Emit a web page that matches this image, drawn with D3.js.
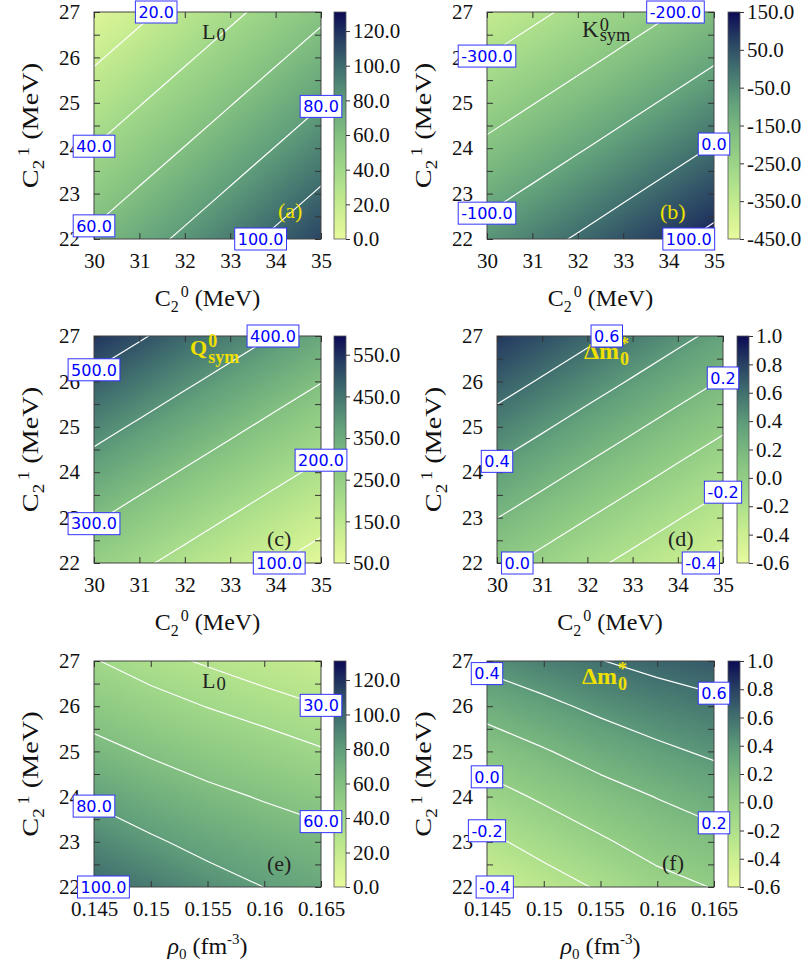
<!DOCTYPE html>
<html><head><meta charset="utf-8">
<script src="https://cdn.jsdelivr.net/npm/d3@7"></script>
<style>body{margin:0;background:#fff} svg{display:block}</style>
</head><body>
<svg id="chart" width="810" height="972"></svg>
<script>
// ---------------- data ----------------
const c2_0 = [30, 31, 32, 33, 34, 35];          // C2^0 (MeV) grid / ticks
const c2_1 = [22, 23, 24, 25, 26, 27];          // C2^1 (MeV) grid / ticks
const c2_1_minor = [22.5, 23.5, 24.5, 25.5, 26.5];
const rho0 = [0.145, 0.15, 0.155, 0.16, 0.165]; // rho0 (fm^-3) grid / ticks
const rho0_labels = ["0.145", "0.15", "0.155", "0.16", "0.165"];

// rows: C2^1 = 22..27 ; cols: C2^0 = 30..35
const L0_a = [
  [63.3, 73.3, 83.3, 93.3, 103.3, 113.3],
  [51.9, 61.9, 71.9, 81.9, 91.9, 101.9],
  [40.5, 50.5, 60.5, 70.5, 80.5, 90.5],
  [29.1, 39.1, 49.1, 59.1, 69.1, 79.1],
  [17.7, 27.7, 37.7, 47.7, 57.7, 67.7],
  [6.3, 16.3, 26.3, 36.3, 46.3, 56.3]
];
const Ksym_b = [
  [-67.1, -29.5, 8.1, 45.7, 83.3, 120.9],
  [-124.9, -87.3, -49.7, -12.1, 25.5, 63.1],
  [-182.7, -145.1, -107.5, -69.9, -32.3, 5.3],
  [-240.5, -202.9, -165.3, -127.7, -90.1, -52.5],
  [-298.3, -260.7, -223.1, -185.5, -147.9, -110.3],
  [-356.1, -318.5, -280.9, -243.3, -205.7, -168.1]
];
const Qsym_c = [
  [248.9, 212.4, 175.9, 139.4, 102.9, 66.4],
  [307.9, 271.4, 234.9, 198.4, 161.9, 125.4],
  [366.9, 330.4, 293.9, 257.4, 220.9, 184.4],
  [425.9, 389.4, 352.9, 316.4, 279.9, 243.4],
  [484.9, 448.4, 411.9, 375.4, 338.9, 302.4],
  [543.9, 507.4, 470.9, 434.4, 397.9, 361.4]
];
const dm_d = [
  [0.044, -0.054, -0.153, -0.251, -0.350, -0.448],
  [0.203, 0.105, 0.006, -0.092, -0.191, -0.289],
  [0.362, 0.264, 0.165, 0.067, -0.032, -0.130],
  [0.521, 0.423, 0.324, 0.226, 0.127, 0.029],
  [0.680, 0.582, 0.483, 0.385, 0.286, 0.188],
  [0.839, 0.741, 0.642, 0.544, 0.445, 0.347]
];
// rows: C2^1 = 22..27 ; cols: rho0 = 0.145..0.165
const L0_e = [
  [101.2, 94.0, 86.4, 79.9, 74.5],
  [89.4, 82.1, 75.2, 69.5, 65.4],
  [77.5, 70.2, 64.0, 58.7, 53.3],
  [64.8, 58.1, 52.0, 46.3, 41.1],
  [52.6, 45.5, 39.6, 34.7, 30.2],
  [40.8, 33.5, 28.6, 23.8, 19.5]
];
const dm_f = [
  [-0.418, -0.286, -0.180, -0.065, 0.007],
  [-0.241, -0.129, -0.024, 0.076, 0.140],
  [-0.073, 0.028, 0.124, 0.206, 0.283],
  [0.094, 0.186, 0.280, 0.363, 0.430],
  [0.268, 0.356, 0.442, 0.509, 0.562],
  [0.451, 0.527, 0.596, 0.653, 0.694]
];

const levels_a = [20, 40, 60, 80, 100];
const levels_b = [-300, -200, -100, 0, 100];
const levels_c = [100, 200, 300, 400, 500];
const levels_d = [-0.4, -0.2, 0.0, 0.2, 0.4, 0.6];
const levels_e = [30, 40, 60, 80, 100];
const levels_f = [-0.4, -0.2, 0.0, 0.2, 0.4, 0.6];

const cbRange_L0 = [0, 131];
const cbTicks_L0 = [0, 20, 40, 60, 80, 100, 120];
const cbRange_K = [-450, 150];
const cbTicks_K = [-450, -350, -250, -150, -50, 50, 150];
const cbRange_Q = [50, 595];
const cbTicks_Q = [50, 150, 250, 350, 450, 550];
const cbRange_dm = [-0.6, 1.0];
const cbTicks_dm = [-0.6, -0.4, -0.2, 0.0, 0.2, 0.4, 0.6, 0.8, 1.0];

// palette
const palPos = [0, 0.15, 0.30, 0.45, 0.60, 0.75, 0.88, 1];
const palCol = ["#e8fa9c", "#c6ec8f", "#a2d989", "#84c181", "#62a17b", "#41706f", "#273f62", "#0b0a55"];

// ---------------- drawing ----------------
const svg = d3.select("#chart");
svg.append("rect").attr("width", 810).attr("height", 972).attr("fill", "#fff");
const defs = svg.append("defs");
const YEL = "#f0e000", DARK = "#222";
const SERIF = "'Liberation Serif','Times New Roman',serif";
const cmap = d3.scaleLinear().domain(palPos).range(palCol).interpolate(d3.interpolateRgb).clamp(true);

function cross(a, b, lev) {
  if ((a[2] >= lev) === (b[2] >= lev)) return null;
  const t = (lev - a[2]) / (b[2] - a[2]);
  return [a[0] + t*(b[0]-a[0]), a[1] + t*(b[1]-a[1])];
}
function segments(grid, xs, ys, lev) {
  const segs = [];
  for (let j = 0; j < ys.length - 1; j++) for (let i = 0; i < xs.length - 1; i++) {
    const c = [[xs[i], ys[j], grid[j][i]], [xs[i+1], ys[j], grid[j][i+1]],
               [xs[i+1], ys[j+1], grid[j+1][i+1]], [xs[i], ys[j+1], grid[j+1][i]]];
    const pts = [];
    for (let k = 0; k < 4; k++) { const q = cross(c[k], c[(k+1) % 4], lev); if (q) pts.push(q); }
    if (pts.length === 2) segs.push(pts);
    if (pts.length === 4) { segs.push([pts[0], pts[1]]); segs.push([pts[2], pts[3]]); }
  }
  return segs;
}
function edgeCross(grid, xs, ys, lev, side) {
  let line;
  const nx = xs.length, ny = ys.length;
  if (side === "left") line = ys.map((yv, j) => [xs[0], yv, grid[j][0]]);
  if (side === "right") line = ys.map((yv, j) => [xs[nx-1], yv, grid[j][nx-1]]);
  if (side === "bottom") line = xs.map((xv, i) => [xv, ys[0], grid[0][i]]);
  if (side === "top") line = xs.map((xv, i) => [xv, ys[ny-1], grid[ny-1][i]]);
  for (let k = 0; k < line.length - 1; k++) { const q = cross(line[k], line[k+1], lev); if (q) return q; }
  return null;
}

const labelLayer = [];

function drawPanel(p) {
  const g = svg.append("g");
  const x = d3.scaleLinear().domain(d3.extent(p.xs)).range([p.px, p.px + p.pw]);
  const y = d3.scaleLinear().domain(d3.extent(p.ys)).range([p.py + p.ph, p.py]);
  const cnorm = d3.scaleLinear().domain(p.cb).range([0, 1]).clamp(true);
  const color = v => cmap(cnorm(v));

  // heat map (bilinear shading of the grid)
  const W = Math.round(p.pw), H = Math.round(p.ph);
  const cv = document.createElement("canvas"); cv.width = W; cv.height = H;
  const ctx = cv.getContext("2d"); const img = ctx.createImageData(W, H);
  const fi = d3.scaleLinear().domain(p.xs).range(d3.range(p.xs.length)).clamp(true);
  const fj = d3.scaleLinear().domain(p.ys).range(d3.range(p.ys.length)).clamp(true);
  const nx = p.xs.length, ny = p.ys.length;
  for (let py = 0; py < H; py++) {
    const vy = fj(y.invert(p.py + py + 0.5));
    const j0 = Math.min(ny - 2, Math.floor(vy)), tj = vy - j0;
    for (let px = 0; px < W; px++) {
      const vx = fi(x.invert(p.px + px + 0.5));
      const i0 = Math.min(nx - 2, Math.floor(vx)), ti = vx - i0;
      const v = (1-ti)*(1-tj)*p.grid[j0][i0] + ti*(1-tj)*p.grid[j0][i0+1]
              + (1-ti)*tj*p.grid[j0+1][i0] + ti*tj*p.grid[j0+1][i0+1];
      const c = d3.rgb(color(v));
      const o = (py*W + px)*4;
      img.data[o] = c.r; img.data[o+1] = c.g; img.data[o+2] = c.b; img.data[o+3] = 255;
    }
  }
  ctx.putImageData(img, 0, 0);
  g.append("image").attr("href", cv.toDataURL()).attr("x", p.px).attr("y", p.py)
    .attr("width", p.pw).attr("height", p.ph).attr("preserveAspectRatio", "none");

  // contours
  const clipId = "clip" + p.id;
  defs.append("clipPath").attr("id", clipId).append("rect")
    .attr("x", p.px).attr("y", p.py).attr("width", p.pw).attr("height", p.ph);
  const line = d3.line().x(d => x(d[0])).y(d => y(d[1]));
  const cg = g.append("g").attr("clip-path", `url(#${clipId})`);
  p.levels.forEach(lev => {
    const segs = segments(p.grid, p.xs, p.ys, lev);
    cg.append("path").attr("d", segs.map(s => line(s)).join(""))
      .attr("fill", "none").attr("stroke", "#fff").attr("stroke-width", 1.2)
      .attr("stroke-linecap", "round");
  });

  // frame
  g.append("rect").attr("x", p.px).attr("y", p.py).attr("width", p.pw).attr("height", p.ph)
    .attr("fill", "none").attr("stroke", "#444").attr("stroke-width", 1);

  // axes
  const styleAxis = sel => {
    sel.select(".domain").remove();
    sel.attr("font-family", SERIF).attr("font-size", 21);
    sel.selectAll(".tick line").attr("stroke", "#333");
    sel.selectAll(".tick text").attr("fill", "#111");
  };
  const xb = d3.axisBottom(x).tickValues(p.xs).tickSizeInner(-6).tickSizeOuter(0).tickPadding(14)
    .tickFormat((d, i) => p.xLabels[i]);
  g.append("g").attr("transform", `translate(0,${p.py + p.ph})`).call(xb).call(styleAxis);
  g.append("g").attr("transform", `translate(0,${p.py})`)
    .call(d3.axisTop(x).tickValues(p.xs).tickSizeInner(-6).tickSizeOuter(0).tickFormat(""))
    .call(styleAxis);
  const yTicksAll = p.ys.concat(c2_1_minor);
  g.append("g").attr("transform", `translate(${p.px},0)`)
    .call(d3.axisLeft(y).tickValues(yTicksAll).tickSizeInner(-6).tickSizeOuter(0).tickPadding(14)
      .tickFormat(d => Number.isInteger(d) ? String(d) : ""))
    .call(styleAxis);
  g.append("g").attr("transform", `translate(${p.px + p.pw},0)`)
    .call(d3.axisRight(y).tickValues(yTicksAll).tickSizeInner(-6).tickSizeOuter(0).tickFormat(""))
    .call(styleAxis);

  // colorbar
  const cbw = 12;
  const cbs = d3.scaleLinear().domain(p.cb).range([p.py + p.ph, p.py]);
  const gid = "grad" + p.id;
  const grad = defs.append("linearGradient").attr("id", gid)
    .attr("x1", 0).attr("y1", 1).attr("x2", 0).attr("y2", 0);
  d3.range(0, 1.0001, 0.025).forEach(t => grad.append("stop").attr("offset", t).attr("stop-color", cmap(t)));
  g.append("rect").attr("x", p.cbx).attr("y", p.py).attr("width", cbw).attr("height", p.ph)
    .attr("fill", `url(#${gid})`).attr("stroke", "#555").attr("stroke-width", 0.8);
  g.append("g").attr("transform", `translate(${p.cbx + cbw},0)`)
    .call(d3.axisRight(cbs).tickValues(p.cbTicks).tickSizeInner(4).tickSizeOuter(0).tickPadding(3)
      .tickFormat(d => d.toFixed(1)))
    .call(styleAxis);

  // axis titles
  const xt = g.append("text").attr("x", p.px + p.pw/2).attr("y", p.py + p.ph + 67)
    .attr("text-anchor", "middle").attr("font-family", SERIF).attr("font-size", 24).attr("fill", "#111");
  if (p.rhoAxis) {
    xt.append("tspan").attr("font-style", "italic").text("ρ");
    xt.append("tspan").attr("font-size", 15).attr("dy", 5).text("0");
    xt.append("tspan").attr("dy", -5).text(" (fm");
    xt.append("tspan").attr("font-size", 15).attr("dy", -10).text("-3");
    xt.append("tspan").attr("dy", 10).text(")");
  } else {
    xt.append("tspan").text("C");
    xt.append("tspan").attr("font-size", 16).attr("dy", 6).text("2");
    xt.append("tspan").attr("font-size", 16).attr("dy", -15).attr("dx", 2).text("0");
    xt.append("tspan").attr("dy", 9).text(" (MeV)");
  }
  const yx = p.px - 56, yy = p.py + p.ph/2;
  const yt = g.append("text").attr("transform", `translate(${yx},${yy}) rotate(-90) scale(1.18,1)`)
    .attr("text-anchor", "middle").attr("font-family", SERIF).attr("font-size", 24).attr("fill", "#111");
  yt.append("tspan").text("C");
  yt.append("tspan").attr("font-size", 16).attr("dy", 6).text("2");
  yt.append("tspan").attr("font-size", 16).attr("dy", -15).attr("dx", 3).text("1");
  yt.append("tspan").attr("dy", 9).text(" (MeV)");

  // panel letter
  g.append("text").attr("x", p.letter[1]).attr("y", p.letter[2]).attr("font-family", SERIF)
    .attr("font-size", 22).attr("fill", p.letter[3]).text(p.letter[0]);

  // title
  p.title(g);

  // contour labels (drawn last)
  p.levels.forEach((lev, k) => {
    const pt = edgeCross(p.grid, p.xs, p.ys, lev, p.sides[k]);
    if (pt) labelLayer.push({cx: x(pt[0]), cy: y(pt[1]), text: lev.toFixed(1)});
  });
}

function txt(g, s, xx, yy, size, fill, weight) {
  return g.append("text").attr("x", xx).attr("y", yy).attr("font-family", SERIF)
    .attr("font-size", size).attr("font-weight", weight || "normal").attr("fill", fill).text(s);
}
// main symbol followed by a stacked superscript / subscript
function symbol(g, main, sup, sb, xx, yy, size, ratio, up, down, fill, weight) {
  const m = txt(g, main, xx, yy, size, fill, weight);
  const x2 = xx + m.node().getComputedTextLength() + 1;
  const s = size * ratio;
  if (sup) txt(g, sup, x2, yy - up, s, fill, weight);
  if (sb) txt(g, sb, x2, yy + down, s, fill, weight);
}

const panels = [
  {id: "a", px: 94, py: 12, pw: 227, ph: 227, cbx: 334, xs: c2_0, xLabels: c2_0.map(String), ys: c2_1,
   grid: L0_a, levels: levels_a, sides: ["top", "left", "left", "right", "bottom"],
   cb: cbRange_L0, cbTicks: cbTicks_L0, letter: ["(a)", 278, 218, YEL],
   title: g => symbol(g, "L", null, "0", 202, 39, 22, 0.85, 0, 2, DARK)},
  {id: "b", px: 487, py: 12, pw: 227, ph: 227, cbx: 728, xs: c2_0, xLabels: c2_0.map(String), ys: c2_1,
   grid: Ksym_b, levels: levels_b, sides: ["left", "top", "left", "right", "bottom"],
   cb: cbRange_K, cbTicks: cbTicks_K, letter: ["(b)", 660, 219, YEL],
   title: g => symbol(g, "K", "0", "sym", 582, 37, 23, 0.8, 6, 4, DARK)},
  {id: "c", px: 94, py: 336, pw: 227, ph: 227, cbx: 334, xs: c2_0, xLabels: c2_0.map(String), ys: c2_1,
   grid: Qsym_c, levels: levels_c, sides: ["bottom", "right", "left", "top", "left"],
   cb: cbRange_Q, cbTicks: cbTicks_Q, letter: ["(c)", 267, 546, DARK],
   title: g => symbol(g, "Q", "0", "sym", 190, 355, 22, 0.82, 8, 8, YEL, "bold")},
  {id: "d", px: 497, py: 336, pw: 226, ph: 227, cbx: 737, xs: c2_0, xLabels: c2_0.map(String), ys: c2_1,
   grid: dm_d, levels: levels_d, sides: ["bottom", "right", "bottom", "right", "left", "top"],
   cb: cbRange_dm, cbTicks: cbTicks_dm, letter: ["(d)", 668, 546, DARK],
   title: g => symbol(g, "Δm", "*", "0", 584, 359, 24, 0.75, 9, 6, YEL, "bold")},
  {id: "e", px: 94, py: 661, pw: 227, ph: 226, cbx: 334, xs: rho0, xLabels: rho0_labels, ys: c2_1, rhoAxis: true,
   grid: L0_e, levels: levels_e, sides: ["right", "left", "right", "left", "bottom"],
   cb: cbRange_L0, cbTicks: cbTicks_L0, letter: ["(e)", 267, 871, DARK],
   title: g => symbol(g, "L", null, "0", 202, 688, 22, 0.85, 0, 2, DARK)},
  {id: "f", px: 487, py: 661, pw: 227, ph: 226, cbx: 728, xs: rho0, xLabels: rho0_labels, ys: c2_1, rhoAxis: true,
   grid: dm_f, levels: levels_f, sides: ["bottom", "left", "left", "right", "left", "right"],
   cb: cbRange_dm, cbTicks: cbTicks_dm, letter: ["(f)", 662, 870, DARK],
   title: g => symbol(g, "Δm", "*", "0", 582, 684, 24, 0.75, 9, 6, YEL, "bold")}
];
panels.forEach(drawPanel);

// contour labels on top
const lg = svg.append("g");
labelLayer.forEach(l => {
  const gg = lg.append("g");
  const r = gg.append("rect");
  const t = gg.append("text").attr("x", l.cx).attr("y", l.cy).attr("dy", "0.36em")
    .attr("text-anchor", "middle").attr("font-family", "'DejaVu Sans',sans-serif")
    .attr("font-size", 16).attr("fill", "#0000ff").text(l.text);
  const w = t.node().getComputedTextLength() + 6;
  r.attr("x", l.cx - w/2).attr("y", l.cy - 11).attr("width", w).attr("height", 22)
    .attr("fill", "#fff").attr("stroke", "#3333ff").attr("stroke-width", 1);
});
</script>
</body></html>
